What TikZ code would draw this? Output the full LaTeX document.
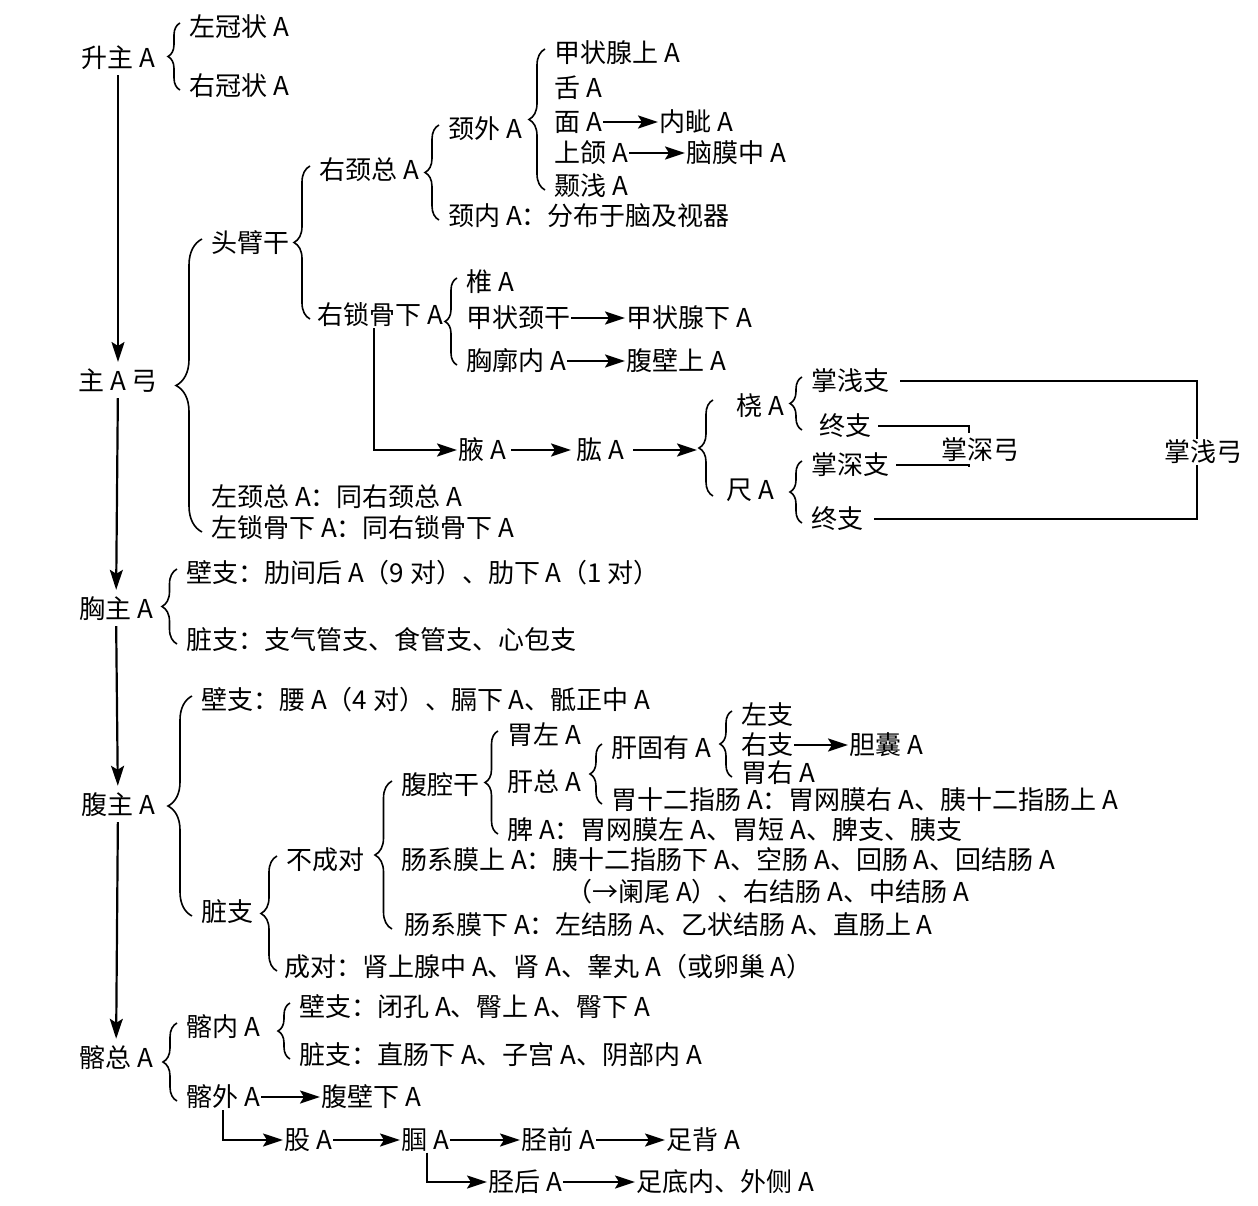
\documentclass[tikz,border=0pt]{standalone}
\usepackage{fontspec}
\setmainfont{Noto Sans CJK SC}
\usetikzlibrary{arrows.meta,decorations.pathreplacing,calc,positioning}

\tikzset{
  lbl/.style={anchor=west, inner sep=1pt, font=\fontsize{26}{30}\selectfont},
  trunk/.style={lbl, anchor=center},
  arr/.style={-{Stealth[length=20pt,width=13pt,inset=4pt]}, line width=2.2pt},
  brc/.style={decorate, decoration={brace, amplitude=#1}, line width=1.6pt},
  brc/.default=14pt,
  ln/.style={line width=1.8pt},
}
% brace in front of two stacked children: [amplitude]{top}{bottom}
\newcommand\curly[3][14pt]{%
  \draw[brc=#1] ($(#2.west |- #3.west)+(-8pt,-4pt)$) -- ($(#2.west)+(-8pt,4pt)$);}

\begin{document}
\begin{tikzpicture}[x=1pt, y=-1pt, every node/.style={lbl}]
    \useasboundingbox (0,0) rectangle (1258,1206);

    % Main trunk
    \node[trunk] (n1) at (118,58) {升主 A};
    \node[trunk] (n2) at (118,381) {主 A 弓};
    \node[trunk] (n3) at (116,609) {胸主 A};
    \node[trunk] (n4) at (118,805) {腹主 A};
    \node[trunk] (n5) at (116,1058) {髂总 A};
    \foreach \a/\b in {n1/n2, n2/n3, n3/n4, n4/n5}
        \draw[arr, shorten <=4pt, shorten >=6pt] (\a) -- (\b);

    % Ascending aorta
    \node (a1) at (188,27) {左冠状 A};
    \node (a2) at (188,86) {右冠状 A};
    \curly[12pt]{a1}{a2}

    % Aortic arch
    \node (b1) at (210,243) {头臂干};
    \node (b2) at (210,497) {左颈总 A：同右颈总 A};
    \node (b3) at (210,528) {左锁骨下 A：同右锁骨下 A};
    \curly[26pt]{b1}{b3}

    \node (c1) at (318,170) {右颈总 A};
    \node (c2) at (316,315) {右锁骨下 A};
    \curly[16pt]{c1}{c2}

    \node (d1) at (447,129) {颈外 A};
    \node (d2) at (447,216) {颈内 A：分布于脑及视器};
    \curly{d1}{d2}

    \node (e1) at (553,53) {甲状腺上 A};
    \node (e2) at (553,88) {舌 A};
    \node (e3) at (553,122) {面 A};
    \node (e4) at (553,153) {上颌 A};
    \node (e5) at (553,186) {颞浅 A};
    \node (f1) at (658,122) {内眦 A};
    \node (f2) at (685,153) {脑膜中 A};
    \curly[16pt]{e1}{e5}

    \node (g1) at (465,282) {椎 A};
    \node (g2) at (465,318) {甲状颈干};
    \node (g3) at (465,361) {胸廓内 A};
    \node (h1) at (625,318) {甲状腺下 A};
    \node (h2) at (625,361) {腹壁上 A};
    \curly[12pt]{g1}{g3}

    % Upper limb
    \node (i1) at (457,450) {腋 A};
    \node (i2) at (575,450) {肱 A};
    \coordinate (hub) at (697,450);
    \draw[arr] ([xshift=-6pt]c2.south) |- (i1);
    \draw[arr, shorten <=4pt, shorten >=4pt] (i1) -- (i2);
    \draw[arr, shorten <=8pt] (i2) -- (hub);
    \node (j1) at (735,406) {桡 A};
    \node (j2) at (725,490) {尺 A};
    \draw[brc] ($(j2.west)+(-12pt,-6pt)$) -- ($(j2.west |- j1.west)+(-12pt,6pt)$);

    \node (k1) at (810,381) {掌浅支};
    \node (k2) at (818,426) {终支};
    \node (k3) at (810,465) {掌深支};
    \node (k4) at (810,519) {终支};
    \curly[12pt]{k1}{k2}
    \curly[12pt]{k3}{k4}
    \node (l1) at (940,450) {掌深弓};
    \node (l2) at (1163,452) {掌浅弓};
    \draw[ln] ([xshift=10pt]k1.east) -| ([xshift=-6pt]l2.north);
    \draw[ln] ([xshift=10pt]k4.east) -| ([xshift=-6pt]l2.south);
    \draw[ln] ([xshift=6pt]k2.east) -| ([shift={(-11pt,4pt)}]l1.north);
    \draw[ln] ([xshift=6pt]k3.east) -| ([shift={(-11pt,-4pt)}]l1.south);

    % Thoracic aorta
    \node (m1) at (185,573) {壁支：肋间后 A（9 对）、肋下 A（1 对）};
    \node (m2) at (185,640) {脏支：支气管支、食管支、心包支};
    \curly[15pt]{m1}{m2}

    % Abdominal aorta
    \node (p1) at (200,700) {壁支：腰 A（4 对）、膈下 A、骶正中 A};
    \node (p2) at (200,912) {脏支};
    \curly[24pt]{p1}{p2}

    \node (q1) at (285,860) {不成对};
    \node (q2) at (283,967) {成对：肾上腺中 A、肾 A、睾丸 A（或卵巢 A）};
    \curly[16pt]{q1}{q2}

    \node (r1) at (400,785) {腹腔干};
    \node (r2) at (400,860) {肠系膜上 A：胰十二指肠下 A、空肠 A、回肠 A、回结肠 A};
    \node (r4) at (565,892) {（→阑尾 A）、右结肠 A、中结肠 A};
    \node (r3) at (403,925) {肠系膜下 A：左结肠 A、乙状结肠 A、直肠上 A};
    \curly[17pt]{r1}{r3}

    \node (s1) at (506,735) {胃左 A};
    \node (s2) at (506,782) {肝总 A};
    \node (s3) at (506,830) {脾 A：胃网膜左 A、胃短 A、脾支、胰支};
    \curly[13pt]{s1}{s3}

    \node (t1) at (610,748) {肝固有 A};
    \node (t2) at (610,800) {胃十二指肠 A：胃网膜右 A、胰十二指肠上 A};
    \curly[12pt]{t1}{t2}

    \node (u1) at (740,715) {左支};
    \node (u2) at (740,745) {右支};
    \node (u3) at (740,773) {胃右 A};
    \node (v1) at (848,745) {胆囊 A};
    \curly[12pt]{u1}{u3}

    % Iliac arteries
    \node (w1) at (185,1027) {髂内 A};
    \node (w2) at (185,1097) {髂外 A};
    \curly{w1}{w2}
    \node (x1) at (298,1007) {壁支：闭孔 A、臀上 A、臀下 A};
    \node (x2) at (298,1055) {脏支：直肠下 A、子宫 A、阴部内 A};
    \curly[12pt]{x1}{x2}
    \node (y1) at (320,1097) {腹壁下 A};

    % Lower limb
    \node (z1) at (283,1140) {股 A};
    \node (z2) at (400,1140) {腘 A};
    \node (z3) at (520,1140) {胫前 A};
    \node (z4) at (665,1140) {足背 A};
    \node (z5) at (487,1182) {胫后 A};
    \node (z6) at (635,1182) {足底内、外侧 A};
    \draw[arr] (w2.south) |- (z1);
    \draw[arr] ([xshift=2pt]z2.south) |- (z5);

    % Straight arrows
    \foreach \a/\b in {e3/f1, e4/f2, g2/h1, g3/h2, u2/v1,
                       w2/y1, z1/z2, z2/z3, z3/z4, z5/z6}
        \draw[arr] (\a) -- (\b);

\end{tikzpicture}
\end{document}
